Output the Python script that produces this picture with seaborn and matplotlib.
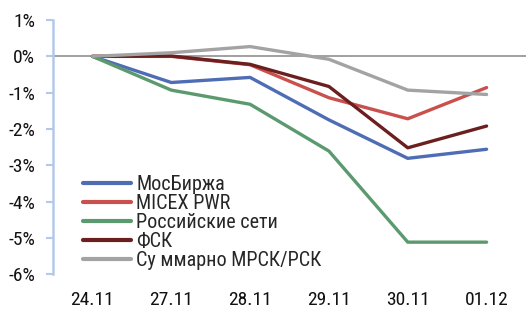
import matplotlib
matplotlib.use("Agg")
import matplotlib.pyplot as plt
import seaborn as sns
import pandas as pd
from matplotlib.ticker import FuncFormatter

dates = ["24.11", "27.11", "28.11", "29.11", "30.11", "01.12"]
moex = [0.0, -0.72, -0.58, -1.75, -2.81, -2.56]
micex_pwr = [0.0, 0.0, -0.23, -1.14, -1.72, -0.86]
rosseti = [0.0, -0.93, -1.32, -2.61, -5.12, -5.12]
fsk = [0.0, 0.01, -0.22, -0.83, -2.52, -1.92]
mrsk = [0.0, 0.10, 0.27, -0.08, -0.93, -1.05]

names = ["МосБиржа", "MICEX PWR", "Российские сети", "ФСК", "Су ммарно МРСК/РСК"]
series = [moex, micex_pwr, rosseti, fsk, mrsk]
colors = ["#4f6db5", "#c9504d", "#5b9a6e", "#6b1f1f", "#a3a3a3"]

rows = []
for n, s in zip(names, series):
    for i, (d, v) in enumerate(zip(dates, s)):
        rows.append({"date": d, "idx": i, "value": v, "series": n})
df = pd.DataFrame(rows)

sns.set_style("white")
plt.rcParams["font.family"] = ["Roboto Condensed", "DejaVu Sans"]

fig = plt.figure(figsize=(5.26, 3.09), dpi=100)
ax = fig.add_axes([0.1008, 0.113, 0.8992, 0.822])

ax.axhline(0, color="#a0a0a0", lw=1.4, zorder=1)
sns.lineplot(data=df, x="idx", y="value", hue="series", palette=colors,
             hue_order=names, sort=False, lw=2.4, ax=ax, zorder=3)

ax.set_xlim(-0.5, 5.5)
ax.set_ylim(-6, 1)
ax.set_xticks(range(len(dates)))
ax.set_xticklabels(dates)
ax.set_yticks(range(-6, 2))
ax.yaxis.set_major_formatter(FuncFormatter(lambda v, p: f"{int(round(v))}%"))
ax.set_xlabel("")
ax.set_ylabel("")
for sp in ["top", "right", "bottom"]:
    ax.spines[sp].set_visible(False)
ax.spines["left"].set_color("#b4c9ea")
ax.spines["left"].set_linewidth(1.8)
ax.tick_params(axis="y", left=True, length=5, width=1.5, color="#b4c9ea",
               pad=8, labelsize=14, labelcolor="#111111")
ax.tick_params(axis="x", bottom=False, pad=9, labelsize=14, labelcolor="#111111")

leg = ax.legend(loc="upper left", bbox_to_anchor=(0.063, 0.39), frameon=False,
                handlelength=2.4, handletextpad=0.25, borderpad=0,
                labelspacing=0.0, borderaxespad=0.0,
                prop={"family": ["Roboto Condensed", "DejaVu Sans"], "size": 14.5})
for h in leg.get_lines():
    h.set_linewidth(3)

fig.savefig("out.png", dpi=100)
